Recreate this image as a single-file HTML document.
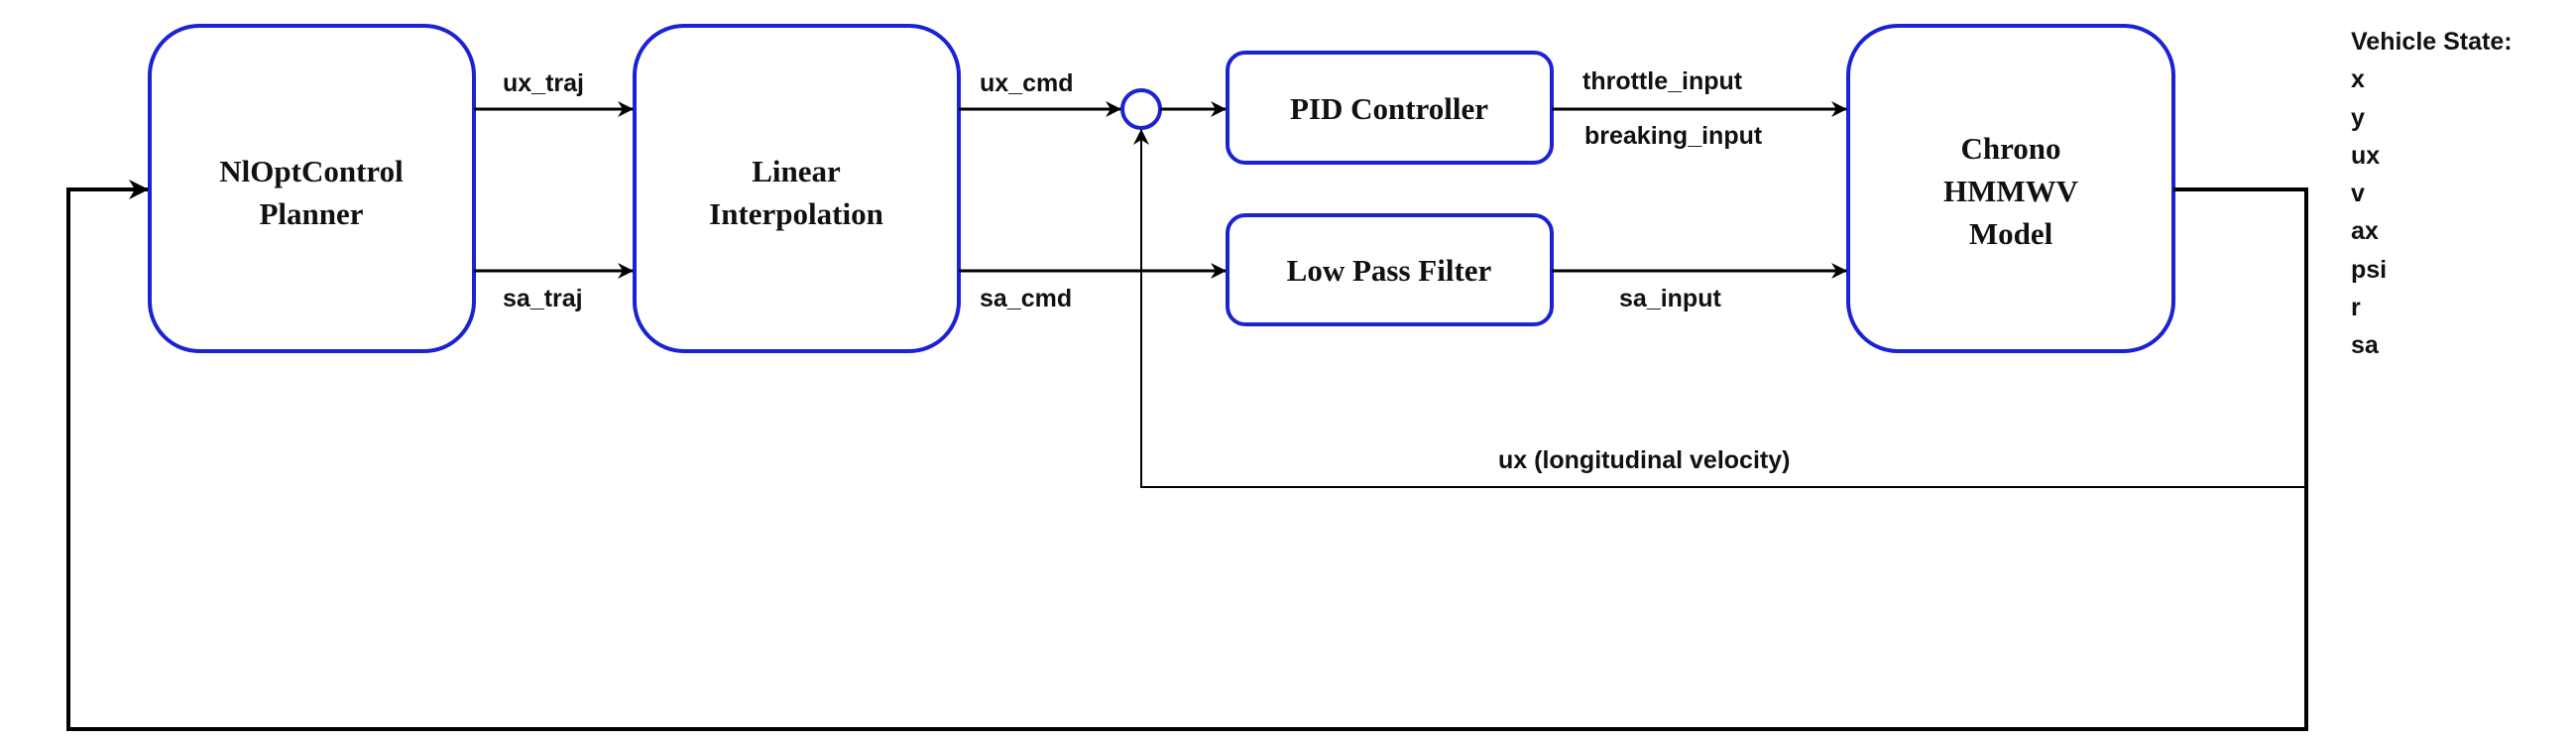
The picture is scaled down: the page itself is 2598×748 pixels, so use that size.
<!DOCTYPE html>
<html><head><style>
html,body{margin:0;padding:0;background:#fff;}
svg{display:block;}
.s{font-family:"Liberation Serif",serif;font-weight:bold;font-size:31px;fill:#111;}
.l{font-family:"Liberation Sans",sans-serif;font-weight:bold;font-size:25px;fill:#111;}
</style></head><body>
<svg width="2598" height="748" viewBox="0 0 2598 748" xmlns="http://www.w3.org/2000/svg">
<defs>
<marker id="a" markerWidth="16" markerHeight="16" refX="15" refY="8" orient="auto" markerUnits="userSpaceOnUse" viewBox="0 0 16 16">
<path d="M0,0 L16,8 L0,16 L5,8 Z" fill="#000"/></marker>
<marker id="b" markerWidth="20" markerHeight="20" refX="19" refY="10" orient="auto" markerUnits="userSpaceOnUse" viewBox="0 0 20 20">
<path d="M0,0 L20,10 L0,20 L6,10 Z" fill="#000"/></marker>
</defs>
<g fill="#fff" stroke="#1a22d4" stroke-width="4">
<rect x="151" y="26" width="327" height="328" rx="50"/>
<rect x="640" y="26" width="327" height="328" rx="50"/>
<rect x="1864" y="26" width="328" height="328" rx="50"/>
<rect x="1238" y="53" width="327" height="111" rx="18"/>
<rect x="1238" y="217" width="327" height="110" rx="18"/>
<circle cx="1151" cy="110" r="19"/>
</g>
<g stroke="#000" stroke-width="3" fill="none">
<line x1="478" y1="110" x2="638" y2="110" marker-end="url(#a)"/>
<line x1="478" y1="273" x2="638" y2="273" marker-end="url(#a)"/>
<line x1="967" y1="110" x2="1130" y2="110" marker-end="url(#a)"/>
<line x1="1170" y1="110" x2="1236" y2="110" marker-end="url(#a)"/>
<line x1="967" y1="273" x2="1236" y2="273" marker-end="url(#a)"/>
<line x1="1565" y1="110" x2="1862" y2="110" marker-end="url(#a)"/>
<line x1="1565" y1="273" x2="1862" y2="273" marker-end="url(#a)"/>
<polyline points="2192,191 2326,191 2326,735 69,735 69,191 149,191" stroke-width="4" marker-end="url(#b)"/>
<polyline points="2326,491 1151,491 1151,131" stroke-width="2" marker-end="url(#a)"/>
</g>
<g class="s" text-anchor="middle">
<text x="314" y="183">NlOptControl</text><text x="314" y="226">Planner</text>
<text x="803" y="183">Linear</text><text x="803" y="226">Interpolation</text>
<text x="1401" y="120">PID Controller</text>
<text x="1401" y="283">Low Pass Filter</text>
<text x="2028" y="160">Chrono</text><text x="2028" y="203">HMMWV</text><text x="2028" y="246">Model</text>
</g>
<g class="l">
<text x="507" y="92">ux_traj</text>
<text x="507" y="309">sa_traj</text>
<text x="988" y="92">ux_cmd</text>
<text x="988" y="309">sa_cmd</text>
<text x="1596" y="90">throttle_input</text>
<text x="1598" y="145">breaking_input</text>
<text x="1633" y="309">sa_input</text>
<text x="1511" y="472">ux (longitudinal velocity)</text>
<text x="2371" y="50">Vehicle State:</text>
<text x="2371" y="88">x</text><text x="2371" y="127">y</text><text x="2371" y="165">ux</text><text x="2371" y="203">v</text>
<text x="2371" y="241">ax</text><text x="2371" y="280">psi</text><text x="2371" y="318">r</text><text x="2371" y="356">sa</text>
</g>
</svg>
</body></html>
